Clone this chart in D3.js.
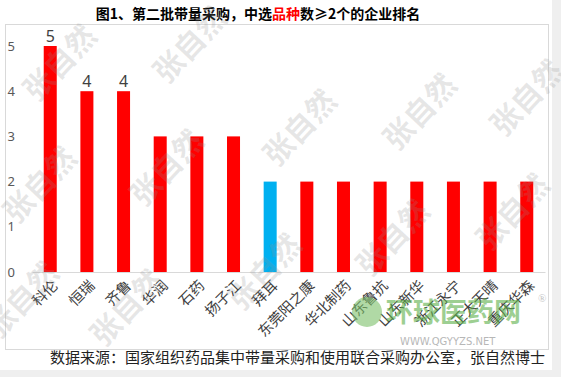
<!DOCTYPE html>
<html>
<head>
<meta charset="utf-8">
<script src="https://cdn.jsdelivr.net/npm/d3@7"></script>
<style>
  body { margin: 0; background: #efefef; }
  svg { display: block; }
</style>
</head>
<body>
<div id="chart"></div>
<script>
// data
var companies = ["科伦", "恒瑞", "齐鲁", "华润", "石药", "扬子江", "拜耳", "东莞阳之康",
                 "华北制药", "山东鲁抗", "山东新华", "浙江永宁", "正大天晴", "重庆华森"];
var counts = [5, 4, 4, 3, 3, 3, 2, 2, 2, 2, 2, 2, 2, 2];
var highlight = ["拜耳"];
var labelled = ["科伦", "恒瑞", "齐鲁"];
var yTicks = [0, 1, 2, 3, 4, 5];

var data = companies.map(function(c, i) { return {name: c, value: counts[i]}; });

var W = 561, H = 377;
var svg = d3.select("#chart").append("svg")
  .attr("width", W).attr("height", H);

// page background and chart box
svg.append("rect").attr("x", 0).attr("y", 0).attr("width", 552).attr("height", 370).attr("fill", "#fff");
svg.append("rect").attr("x", 5.5).attr("y", 24.5).attr("width", 543).attr("height", 325)
  .attr("fill", "#fff").attr("stroke", "#d9d9d9");

// title
var title = svg.append("text")
  .attr("x", 258).attr("y", 19)
  .attr("text-anchor", "middle")
  .style("font-family", "'Noto Sans CJK SC', sans-serif")
  .style("font-size", "14px").style("font-weight", "bold")
  .attr("fill", "#000");
title.append("tspan").text("图1、第二批带量采购，中选");
title.append("tspan").attr("fill", "#ff0000").text("品种");
title.append("tspan").text("数≥2个的企业排名");

// scales
var x = d3.scaleBand()
  .domain(companies)
  .range([32, 545])
  .paddingInner(0.645)
  .paddingOuter(0.32);

var y = d3.scaleLinear()
  .domain([0, 5])
  .range([272, 46]);

// y labels
svg.append("g").selectAll("text")
  .data(yTicks)
  .enter().append("text")
  .attr("x", 15)
  .attr("y", function(d) { return y(d); })
  .attr("dy", "0.35em")
  .attr("text-anchor", "end")
  .attr("fill", "#595959")
  .style("font-family", "'Noto Sans', sans-serif")
  .style("font-size", "13px")
  .text(function(d) { return d; });

// baseline
var xAxis = svg.append("g")
  .attr("transform", "translate(0," + y(0) + ")")
  .call(d3.axisBottom(x).tickSize(0).tickFormat(""));
xAxis.select(".domain").attr("stroke", "#d9d9d9");

// bars
svg.selectAll(".bar")
  .data(data)
  .enter().append("rect")
  .attr("class", "bar")
  .attr("x", function(d) { return x(d.name); })
  .attr("y", function(d) { return y(d.value); })
  .attr("width", x.bandwidth())
  .attr("height", function(d) { return y(0) - y(d.value); })
  .attr("fill", function(d) { return highlight.indexOf(d.name) >= 0 ? "#00b0f0" : "#ff0000"; });

// value labels
svg.selectAll(".val")
  .data(data.filter(function(d) { return labelled.indexOf(d.name) >= 0; }))
  .enter().append("text")
  .attr("x", function(d) { return x(d.name) + x.bandwidth() / 2; })
  .attr("y", function(d) { return y(d.value) - 4; })
  .attr("text-anchor", "middle")
  .attr("fill", "#404040")
  .style("font-family", "'Noto Sans', sans-serif")
  .style("font-size", "16px")
  .text(function(d) { return d.value; });

// category labels
svg.selectAll(".cat")
  .data(companies)
  .enter().append("text")
  .attr("transform", function(d) {
    return "translate(" + (x(d) + x.bandwidth() / 2 + 5) + "," + (y(0) + 11) + ") rotate(-45)";
  })
  .attr("text-anchor", "end")
  .attr("dy", "0.35em")
  .attr("fill", "#404040")
  .style("font-family", "'Noto Sans CJK SC', sans-serif")
  .style("font-size", "14.5px")
  .text(function(d) { return d; });

// footer
svg.append("text")
  .attr("x", 545).attr("y", 363)
  .attr("text-anchor", "end")
  .attr("fill", "#222")
  .style("font-family", "'Noto Sans CJK SC', serif")
  .style("font-size", "15px")
  .text("数据来源：国家组织药品集中带量采购和使用联合采购办公室，张自然博士");

// watermark
var marks = [[60, 63], [190, 45], [300, 128], [420, 112], [527, 98], [40, 185], [167, 168],
             [513, 212], [393, 238], [265, 272], [127, 308], [22, 300]];
svg.append("g").selectAll("text")
  .data(marks)
  .enter().append("text")
  .attr("transform", function(d) { return "translate(" + d[0] + "," + d[1] + ") rotate(-47)"; })
  .attr("text-anchor", "middle")
  .attr("dy", "0.35em")
  .attr("fill", "#909090")
  .attr("fill-opacity", 0.22)
  .style("font-family", "'Noto Sans CJK SC', sans-serif")
  .style("font-size", "30px").style("font-weight", "bold")
  .text("张自然");

// logo
var logo = svg.append("g").attr("opacity", 0.6);
logo.append("circle").attr("cx", 367).attr("cy", 312).attr("r", 15).attr("fill", "#7cc06a");
logo.append("text").attr("x", 386).attr("y", 322)
  .attr("fill", "#5db04a")
  .style("font-family", "'Noto Sans CJK SC', sans-serif")
  .style("font-size", "27px").style("font-weight", "bold")
  .text("环球医药网");
logo.append("text").attr("x", 538).attr("y", 302)
  .attr("fill", "#999").style("font-size", "11px").text("®");
logo.append("text").attr("x", 400).attr("y", 345)
  .attr("fill", "#888")
  .style("font-family", "'DejaVu Sans', sans-serif")
  .style("font-size", "10px")
  .text("WWW.QGYYZS.NET");
</script>
</body>
</html>
